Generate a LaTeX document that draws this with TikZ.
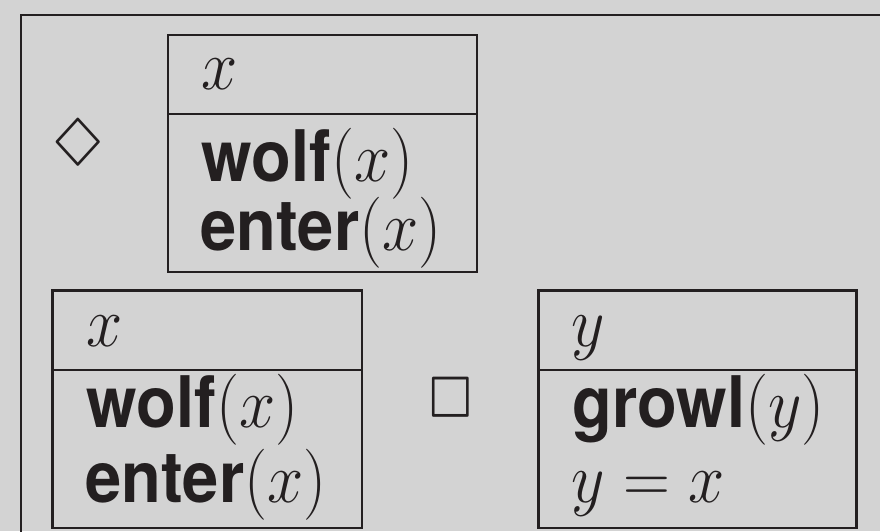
\documentclass[tikz,border=0pt]{standalone}
\usepackage{amsmath, latexsym}
\usepackage[no-math]{fontspec}
\setmainfont{TeX Gyre Heros}
\usepackage{graphicx}
\usepackage{xcolor}
\usepackage{tikz}
\usetikzlibrary{positioning}

\definecolor{slidegrey}{RGB}{211,211,211}
\definecolor{inkdark}{RGB}{35,31,32}
\newcommand{\tallbox}[1]{\scalebox{1.07}[1.17]{#1}}

\begin{document}
\begin{tikzpicture}[
  x=0.01cm, y=-0.01cm,
  font=\fontsize{17.28}{21}\selectfont,
  drsline/.style={draw=inkdark, line width=0.7pt},
  refvar/.style={inner sep=0pt, anchor=base west, text=inkdark},
  condline/.style={inner sep=0pt, anchor=base west, text=inkdark},
  modalop/.style={inner sep=0pt, text=inkdark}
]
\useasboundingbox[fill=slidegrey] (0,0) rectangle (880,531);
\clip (0,0) rectangle (880,531);

% ============ OUTER BOX ============
\draw[drsline] (890,15) -- (21,15) -- (21,540);

% ============ DIAMOND : POSSIBLE WOLF ============
\node[modalop] (dia) at (78.7,151) {\tallbox{$\Diamond$}};
\draw[drsline] (168,35) rectangle (477,272);
\draw[drsline] (168,114) -- (477,114);
\node[refvar]   (posx)     at (201,90)  {\tallbox{$x$}};
\node[condline] (poswolf)  at (201,182) {\tallbox{\textbf{wolf}$(x)$}};
\node[condline] (posenter) at (200,251) {\tallbox{\textbf{enter}$(x)$}};

% ============ ANTECEDENT BOX ============
\draw[drsline] (52.7,290.7) rectangle (362,528);
\draw[drsline] (52.7,370) -- (362,370);
\node[refvar]   (antx)     at (86,347)  {\tallbox{$x$}};
\node[condline] (antwolf)  at (86,427)  {\tallbox{\textbf{wolf}$(x)$}};
\node[condline] (antenter) at (85,502)  {\tallbox{\textbf{enter}$(x)$}};

% ============ BOX : NECESSARY GROWL ============
\node[modalop] (nec) at (450.5,406) {\tallbox{$\Box$}};
\draw[drsline] (538.3,290.7) rectangle (856.7,528);
\draw[drsline] (538.3,370) -- (856.7,370);
\node[refvar]   (consy)     at (571,347) {\tallbox{$y$}};
\node[condline] (consgrowl) at (572,427) {\tallbox{\textbf{growl}$(y)$}};
\node[condline] (conseq)    at (571,502) {\tallbox{$y = x$}};

\end{tikzpicture}
\end{document}
